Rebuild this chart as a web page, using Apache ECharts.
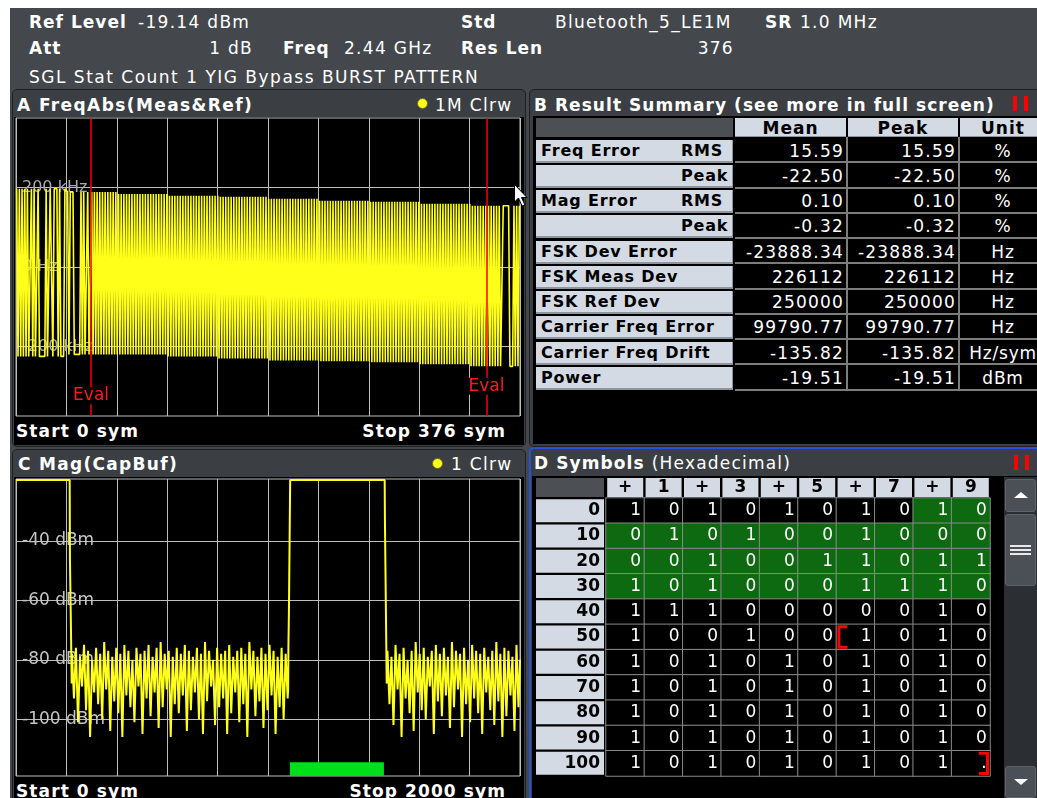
<!DOCTYPE html>
<html>
<head>
<meta charset="utf-8">
<script src="https://cdn.jsdelivr.net/npm/echarts@6.0.0/dist/echarts.min.js"></script>
<style>
html,body{margin:0;padding:0;width:1037px;height:798px;overflow:hidden;background:#fff;}
#bg,#fg,#chart{position:absolute;left:0;top:0;width:1037px;height:798px;}
#fg{pointer-events:none;}
.a{position:absolute;white-space:nowrap;font-family:"DejaVu Sans",Verdana,sans-serif;font-size:17px;color:#fff;letter-spacing:1.3px;}
</style>
</head>
<body>
<div id="bg"></div>
<div id="chart"></div>
<div id="fg"></div>
<script>
// ================= DATA =================
// Panel A : FreqAbs (kHz) over 376 symbols
const symbolRowsD = ['1010101010','0101001000','0010011011','1010001110','1110000010',
                     '1001001010','1010101010','1010101010','1010101010','1010101010','101010101.'];
const rowLabelsD = ['0','10','20','30','40','50','60','70','80','90','100'];
const colHeadersD = ['+','1','+','3','+','5','+','7','+','9'];
const accessAddressRange = [8, 39];          // green highlighted symbols
const bracketMarksD = [[6,5,0],[9,10,1]];     // [col,row,side] red eval brackets
const laterBitsA = ['1010101010','1010101010','1010101010','1010101010','1010101010','1010101010',
                    '1010101010','1010101010','1010101010','1010101010','1010101010','1010101010',
                    '1010101010','1010101010','1010101010','1010101010','1010101010','1010101010',
                    '1010101010','1010101010','1010101010','1010101010','1010101010','1010101010',
                    '1010101010100','11111','000','10101'];
const hiLevelA = [197,189,184,179,177,172,167,164,159,154];        // kHz per division
const loLevelA = [-225,-220,-220,-225,-230,-235,-237,-240,-245,-250];
const evalRangeA = [56, 351];
const evalLabelYA = [-324, -300];
const yTicksA = [-200, 0, 200];

// Panel C : Mag(CapBuf) dBm over 2000 symbols
const refLevelC = -19.14;
const edge1C = [[0,-19.5],[213,-19.5],[214,-46],[216,-46],[217,-63],[219,-63],[221,-88]];
const edge2C = [[1080,-90],[1081,-76],[1083,-64],[1086,-64],[1088,-19.5],[1463,-19.5],[1464,-33],[1469,-33],[1471,-88]];
const noiseStartLC = 222, noiseStartRC = 1474, noiseStepC = 16;
const noiseHiL = [-78,-76,-79,-75,-77,-80,-76,-78,-74,-77,-79,-76,-78,-75,-77,-80,-76,-78,-77,-75,
                  -79,-76,-74,-78,-77,-79,-76,-78,-75,-77,-79,-76,-78,-74,-77,-80,-76,-78,-77,-75,
                  -79,-77,-76,-78,-74,-77,-79,-76,-78,-75,-77,-79,-76,-78];
const noiseLoL = [-93,-101,-89,-97,-106,-91,-95,-100,-90,-104,-94,-98,-106,-92,-96,-101,-89,-105,-93,-99,
                  -91,-103,-96,-90,-106,-95,-98,-92,-104,-97,-91,-100,-105,-94,-89,-102,-96,-93,-105,-98,
                  -91,-101,-95,-106,-90,-99,-94,-103,-97,-92,-105,-96,-100,-93];
const noiseHiR = [-77,-79,-75,-78,-76,-80,-77,-74,-78,-76,-79,-77,-75,-78,-76,-79,-74,-77,-78,-76,
                  -80,-75,-77,-78,-76,-79,-77,-74,-78,-76,-77,-79,-75];
const noiseLoR = [-95,-102,-90,-106,-93,-98,-104,-91,-97,-100,-89,-105,-94,-99,-92,-103,-96,-90,-106,-95,
                  -101,-93,-98,-105,-91,-97,-102,-94,-106,-99,-92,-104,-96];
const evalBarC = [1087, 1460];
const yTicksC = [-100, -80, -60, -40];

// Panel B : result summary
const summaryLabels = ['Freq Error','','Mag Error','','FSK Dev Error','FSK Meas Dev','FSK Ref Dev','Carrier Freq Error','Carrier Freq Drift','Power'];
const summarySub = ['RMS','Peak','RMS','Peak','','','','','',''];
const summaryMean = ['15.59','-22.50','0.10','-0.32','-23888.34','226112','250000','99790.77','-135.82','-19.51'];
const summaryPeak = ['15.59','-22.50','0.10','-0.32','-23888.34','226112','250000','99790.77','-135.82','-19.51'];
const summaryUnit = ['%','%','%','%','Hz','Hz','Hz','Hz','Hz/sym','dBm'];
const summaryCols = ['Mean','Peak','Unit'];

// ================= HTML LAYER =================
const bg = document.getElementById('bg'), fg = document.getElementById('fg');
function rect(x,y,w,h,css,p){const d=document.createElement('div');d.style.cssText=`position:absolute;box-sizing:border-box;left:${x}px;top:${y}px;width:${w}px;height:${h}px;${css||''}`;(p||bg).appendChild(d);return d;}
function txt(x,y,s,css,align,p){
  const d=document.createElement('div');d.className='a';d.textContent=s;
  let pos=`top:${y-12}px;height:24px;line-height:24px;`;
  if(align==='right')pos+=`right:${1037-x}px;`;else if(align==='center')pos+=`left:${x}px;transform:translateX(-50%);`;else pos+=`left:${x}px;`;
  d.style.cssText=pos+(css||'');(p||bg).appendChild(d);return d;}
const B='font-weight:bold;letter-spacing:1px;';
const PAGE='#44484d', TBAR='#3b3f44', LIGHT='#d3dae3';

rect(10,8,1027,790,`background:${PAGE};`);
// header
txt(29,21.5,'Ref Level',B); txt(138,21.5,'-19.14 dBm');
txt(461,21.5,'Std',B); txt(555,21.5,'Bluetooth_5_LE1M'); txt(765,21.5,'SR',B); txt(800,21.5,'1.0 MHz');
txt(29,48,'Att',B); txt(253,48,'1 dB','','right'); txt(283,48,'Freq',B); txt(344,48,'2.44 GHz');
txt(461,48,'Res Len',B); txt(734,48,'376','','right');
txt(29,76.5,'SGL Stat Count 1 YIG Bypass BURST PATTERN','letter-spacing:1.5px;');

// panel frames
function panel(x,y,w,h,border){
  rect(x,y,w,h,`background:${TBAR};border:${border};border-radius:5px;`);
}
panel(12,89,514,358,'1px solid #1d1f22');
rect(14,117,510,328,'background:#000;');
panel(12,449,514,360,'1px solid #1d1f22');
rect(14,477,510,321,'background:#000;');
panel(529,89,512,358,'1px solid #1d1f22');
rect(533,116,504,328,'background:#000;');
panel(529,447,512,360,'2px solid #2454d2');
rect(532,476,505,322,'background:#000;');

// titles
txt(17,104.5,'A FreqAbs(Meas&Ref)',B+'letter-spacing:1.4px;');
rect(417,98,11,11,'background:#ffff1a;border-radius:50%;border:1px solid #6b6b20;');
txt(435,104.5,'1M Clrw');
txt(16,431,'Start 0 sym',B+'letter-spacing:1.1px;');
txt(506,431,'Stop 376 sym',B+'letter-spacing:1.1px;','right');

txt(18,463.5,'C Mag(CapBuf)',B+'letter-spacing:1.3px;');
rect(432,458,11,11,'background:#ffff1a;border-radius:50%;border:1px solid #6b6b20;');
txt(451,463.5,'1 Clrw');
txt(16,791,'Start 0 sym',B+'letter-spacing:1.1px;');
txt(506,791,'Stop 2000 sym',B+'letter-spacing:1.1px;','right');

txt(534,104.5,'B Result Summary (see more in full screen)',B+'letter-spacing:1.05px;');
rect(1013,96,4,15,'background:#f00;'); rect(1024,96,4,15,'background:#f00;');

const dt=txt(534,462.5,'D Symbols ',B+'letter-spacing:1.1px;');
const hx=document.createElement('span');hx.textContent='(Hexadecimal)';hx.style.cssText='font-weight:normal;letter-spacing:1.2px;';dt.appendChild(hx);
rect(1014,455,4,15,'background:#f00;'); rect(1025,455,4,15,'background:#f00;');

// summary table
rect(536,118,197,19,'background:#4c5055;');
const colX=[735,848,960], colW=[111,110,80];
summaryCols.forEach((c,j)=>{
  rect(colX[j],118,colW[j],19,`background:${LIGHT};border-bottom:1px solid #8d959e;`);
  txt(j===2?1003:colX[j]+colW[j]/2,127.5,c,B+'color:#000;font-size:17px;','center');
});
const rowP=25.27;
summaryLabels.forEach((l,i)=>{
  const top=139.5+i*rowP, cy=150.5+i*rowP;
  rect(536,top,197,23,`background:${LIGHT};border-bottom:2px solid #8d959e;border-right:1px solid #8d959e;`);
  if(l) txt(541,cy,l,'font-weight:bold;letter-spacing:0.8px;font-size:16px;color:#000;');
  if(summarySub[i]) txt(681,cy,summarySub[i],'font-weight:bold;letter-spacing:0.8px;font-size:16px;color:#000;');
  const vtop=137+i*rowP;
  colX.forEach((x,j)=>rect(x,vtop,j===2?80:colW[j]+2,rowP+1,'border-bottom:2px solid #7d7d7d;'+(j<2?'border-right:2px solid #7d7d7d;':'')));
  txt(844,cy,summaryMean[i],'letter-spacing:1.2px;','right');
  txt(956,cy,summaryPeak[i],'letter-spacing:1.2px;','right');
  txt(1003,cy,summaryUnit[i],'letter-spacing:0.8px;','center');
});

// symbol table corner + scrollbar
rect(536,478,68,19,'background:#4c5055;');
rect(1004,477,33,321,'background:#2b2e32;');
const sbBtn='background:#4b5056;border:1px solid #5e646b;border-radius:3px;';
rect(1005,479,31,33,sbBtn);
rect(1005,514,31,72,sbBtn);
rect(1005,766,31,32,sbBtn);
rect(1010,545,21,2,'background:#e8e8e8;');rect(1010,549,21,2,'background:#e8e8e8;');rect(1010,553,21,2,'background:#e8e8e8;');
const svgNS='http://www.w3.org/2000/svg';
function svg(x,y,w,h,inner,p){const s=document.createElementNS(svgNS,'svg');s.setAttribute('width',w);s.setAttribute('height',h);s.style.cssText=`position:absolute;left:${x}px;top:${y}px;`;s.innerHTML=inner;(p||bg).appendChild(s);}
svg(1013,491,16,8,'<polygon points="1,7 8,1 15,7" fill="#fff"/>');
svg(1013,778,16,8,'<polygon points="1,1 8,7 15,1" fill="#fff"/>');
// mouse pointer in panel A
svg(513,183,16,26,'<polygon points="1.5,1.5 1.5,19 5.5,15 9,23 12,22 8.5,14.5 14,14.5" fill="#fff" stroke="#000" stroke-width="1"/>',fg);

// ================= CHART =================
const traceBitsA = symbolRowsD.join('').replace('.','0') + laterBitsA.join('');
const divA = 376/10;
const traceA = traceBitsA.split('').map((b,i)=>{
  const d=Math.min(9,Math.floor(i/divA));
  return [i+0.5, b==='1'?hiLevelA[d]:loLevelA[d]];
});
function noisePairs(start,hi,lo){const out=[];hi.forEach((h,i)=>{out.push([start+i*noiseStepC,h]);out.push([start+i*noiseStepC+noiseStepC/2,lo[i]]);});return out;}
const traceC = [].concat(edge1C, noisePairs(noiseStartLC,noiseHiL,noiseLoL), edge2C, noisePairs(noiseStartRC,noiseHiR,noiseLoR), [[2000,-80]]);

const cellsD=[];
symbolRowsD.forEach((row,r)=>row.split('').forEach((ch,c)=>{
  const idx=r*10+c;
  const green=idx>=accessAddressRange[0]&&idx<=accessAddressRange[1];
  cellsD.push({value:[c,r,ch==='1'?1:0],name:ch,itemStyle:{color:green?'#0e6a10':'#000'}});
}));

const FONT='DejaVu Sans', GRID='#bdbdbd', YEL='#ffff1a';
const chart=echarts.init(document.getElementById('chart'));
chart.setOption({
  animation:false,
  backgroundColor:'transparent',
  grid:[
    {left:16,top:118,width:504,height:298,show:true,backgroundColor:'#000',borderColor:GRID,borderWidth:1},
    {left:16,top:479,width:504,height:297,show:true,backgroundColor:'#000',borderColor:GRID,borderWidth:1},
    {left:606,top:498,width:384,height:278,show:false}
  ],
  xAxis:[
    {gridIndex:0,type:'value',min:0,max:376,interval:divA,axisLine:{show:false},axisTick:{show:false},axisLabel:{show:false},splitLine:{show:true,lineStyle:{color:GRID,width:1}}},
    {gridIndex:1,type:'value',min:0,max:2000,interval:200,axisLine:{show:false},axisTick:{show:false},axisLabel:{show:false},splitLine:{show:true,lineStyle:{color:GRID,width:1}}},
    {gridIndex:2,type:'category',position:'top',data:colHeadersD,axisLine:{show:false},axisTick:{show:false},splitLine:{show:false},
     axisLabel:{margin:1,color:'#000',fontFamily:FONT,fontWeight:'bold',fontSize:17,backgroundColor:'#d3dae3',width:36,height:19,lineHeight:19,align:'center'}}
  ],
  yAxis:[
    {gridIndex:0,type:'value',min:-375,max:375,axisLine:{show:false},axisTick:{show:false,customValues:yTicksA},
     axisLabel:{inside:true,customValues:yTicksA,margin:6,color:'#a9a9a9',fontFamily:FONT,fontSize:16,formatter:v=>v===0?'0 Hz':v+' kHz'},
     splitLine:{show:true,lineStyle:{color:GRID,width:1}}},
    {gridIndex:1,type:'value',min:refLevelC-100,max:refLevelC,axisLine:{show:false},axisTick:{show:false,customValues:yTicksC},
     axisLabel:{inside:true,customValues:yTicksC,margin:6,color:'#c4c4c4',fontFamily:FONT,fontSize:17,formatter:v=>v+' dBm'},
     splitLine:{show:true,lineStyle:{color:GRID,width:1}}},
    {gridIndex:2,type:'category',inverse:true,data:rowLabelsD,axisLine:{show:false},axisTick:{show:false},splitLine:{show:false},
     axisLabel:{margin:2,color:'#000',fontFamily:FONT,fontWeight:'bold',fontSize:17,backgroundColor:'#d3dae3',width:64,height:23,lineHeight:23,align:'right',padding:[0,4,0,0]}}
  ],
  series:[
    {type:'line',xAxisIndex:0,yAxisIndex:0,data:traceA,symbol:'none',showSymbol:false,lineStyle:{color:YEL,width:1.6},itemStyle:{color:YEL},z:3,
     markLine:{silent:true,symbol:'none',label:{show:false},lineStyle:{color:'#ff0000',width:1.5,type:'solid'},data:[{xAxis:evalRangeA[0]},{xAxis:evalRangeA[1]}]},
     markPoint:{silent:true,symbol:'rect',symbolSize:0,data:[{coord:[evalRangeA[0],evalLabelYA[0]]},{coord:[evalRangeA[1],evalLabelYA[1]]}],
       label:{show:true,position:'inside',formatter:'Eval',color:'#ff1a1a',fontFamily:FONT,fontSize:17,backgroundColor:'#000',padding:[0,1]}}},
    {type:'line',xAxisIndex:1,yAxisIndex:1,data:traceC,symbol:'none',showSymbol:false,lineStyle:{color:YEL,width:2},itemStyle:{color:YEL},z:3,
     markArea:{silent:true,itemStyle:{color:'#00e01a',opacity:1},data:[[{xAxis:evalBarC[0],yAxis:refLevelC-100},{xAxis:evalBarC[1],yAxis:refLevelC-95.4}]]}},
    {type:'heatmap',xAxisIndex:2,yAxisIndex:2,data:cellsD,itemStyle:{borderColor:'#8a8a8a',borderWidth:1},
     label:{show:true,position:'insideRight',distance:4,color:'#fff',fontFamily:FONT,fontSize:17,formatter:'{b}'},emphasis:{disabled:true}},
    {type:'custom',xAxisIndex:2,yAxisIndex:2,data:bracketMarksD,z:10,silent:true,
     renderItem:(params,api)=>{
       const c=api.coord([api.value(0),api.value(1)]), s=api.size([1,1]);
       const x0=c[0]-s[0]/2, x1=c[0]+s[0]/2, y0=c[1]-s[1]/2+2.5, y1=c[1]+s[1]/2-2.5;
       const pts=api.value(2)===0?[[x0+11,y0],[x0+2.5,y0],[x0+2.5,y1],[x0+11,y1]]:[[x1-11,y0],[x1-2.5,y0],[x1-2.5,y1],[x1-11,y1]];
       return {type:'polyline',shape:{points:pts},style:{stroke:'#ff0000',lineWidth:3,fill:null}};
     }}
  ]
});
</script>
</body>
</html>
